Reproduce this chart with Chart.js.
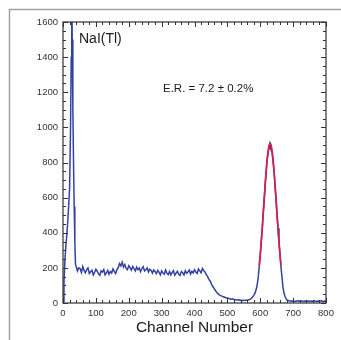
<!DOCTYPE html>
<html>
<head>
<meta charset="utf-8">
<script src="https://cdn.jsdelivr.net/npm/chart.js@4"></script>
<style>
html,body{margin:0;padding:0;background:#fff;}
#wrap{position:relative;width:341px;height:340px;}
</style>
</head>
<body>
<div id="wrap"><canvas id="c" width="341" height="340"></canvas></div>
<script>
// ---- data ----
const spectrumChannels = [
  0,3,6,9,12,15,18,20,23,25,26.5,28,30,32,34,36,38,
  40,44,48,52,56,60,64,68,72,76,80,84,88,92,96,100,104,108,112,116,120,124,128,132,136,140,144,148,152,156,
  160,164,168,172,176,180,184,188,192,196,200,204,208,212,216,220,224,228,232,236,240,244,248,252,256,
  260,264,268,272,276,280,284,288,292,296,300,304,308,312,316,320,324,328,332,336,340,344,348,352,356,
  360,364,368,372,376,380,384,388,392,396,400,404,408,412,416,420,424,428,432,436,440,444,448,452,456,
  460,464,468,472,476,480,485,490,495,500,505,510,515,520,525,530,535,540,545,550,555,560,565,570,575,
  580,585,590,594,597,600,603,606,609,612,615,618,621,624,627,629,630,631,633,636,639,642,645,648,651,
  654,657,660,663,666,669,672,675,678,681,685,690,695,700,705,710,715,720,725,730,735,740,745,750,755,
  760,765,770,775,780,785,790,795,800
];
const spectrumCounts = [
  10,120,250,330,400,480,580,650,1000,1400,1850,1500,1100,800,550,350,220,
  208,182,200,196,174,208,186,172,190,200,168,178,186,160,174,192,181,166,158,183,176,190,160,171,186,164,179,171,194,180,
  168,189,201,224,211,232,205,219,197,190,212,201,187,208,196,183,204,190,199,178,196,207,183,189,200,
  177,192,185,170,188,180,167,185,175,160,182,171,164,188,170,162,179,160,174,184,158,170,181,163,157,
  179,172,160,184,169,176,188,165,180,171,189,176,168,194,183,172,196,185,176,161,150,134,124,106,94,
  82,70,60,52,46,42,38,34,30,28,26,22,24,20,19,17,18,15,16,14,15,16,18,22,30,
  42,60,95,150,210,268,350,415,510,580,675,740,815,850,895,920,880,910,870,858,800,750,665,590,500,
  425,340,280,205,150,92,58,38,26,18,14,12,10,12,9,11,13,10,12,9,11,10,13,9,11,
  10,12,9,11,10,12,9,11,10
];
const fitChannels = [597,600,603,606,609,612,615,618,621,624,627,630,633,636,639,642,645,648,651,654,657,660,663];
const fitCounts   = [216,278,348,426,509,594,676,753,818,867,898,908,898,867,818,753,676,594,509,426,348,278,216];
const xTickLabels = [0,100,200,300,400,500,600,700,800];
const yTickLabels = [0,200,400,600,800,1000,1200,1400,1600];
const detectorLabel = "NaI(Tl)";
const resolutionLabel = "E.R. = 7.2 \u00b1 0.2%";
const xTitle = "Channel Number";

const spectrumData = spectrumChannels.map((c,i)=>({x:c,y:spectrumCounts[i]}));
const fitData = fitChannels.map((c,i)=>({x:c,y:fitCounts[i]}));

const frameAndTicks = {
  id:'frameAndTicks',
  beforeDraw(chart){
    const ctx = chart.ctx;
    ctx.save();
    ctx.strokeStyle = '#a0a0a0';
    ctx.lineWidth = 1.5;
    ctx.beginPath();
    ctx.moveTo(9.5, 340); ctx.lineTo(9.5, 9.5); ctx.lineTo(341, 9.5);
    ctx.stroke();
    ctx.restore();
  },
  afterDraw(chart){
    const {ctx, chartArea:a, scales:{x, y}} = chart;
    ctx.save();
    ctx.strokeStyle = '#333';
    ctx.lineWidth = 1;
    ctx.beginPath();
    for (let v = 0; v <= 800; v += 20) {
      const px = Math.round(x.getPixelForValue(v)) + 0.5;
      const len = (v % 100 === 0) ? 5 : 3;
      ctx.moveTo(px, a.bottom); ctx.lineTo(px, a.bottom - len);
      ctx.moveTo(px, a.top); ctx.lineTo(px, a.top + len);
    }
    for (let v = 0; v <= 1600; v += 50) {
      const py = Math.round(y.getPixelForValue(v)) + 0.5;
      const len = (v % 200 === 0) ? 5 : 3;
      ctx.moveTo(a.left, py); ctx.lineTo(a.left + len, py);
      ctx.moveTo(a.right, py); ctx.lineTo(a.right - len, py);
    }
    ctx.stroke();
    ctx.lineWidth = 1.2;
    ctx.strokeRect(a.left, a.top, a.right - a.left, a.bottom - a.top);
    ctx.fillStyle = '#1a1a1a';
    ctx.textBaseline = 'middle';
    ctx.textAlign = 'left';
    ctx.font = '14px "Liberation Sans", Arial, sans-serif';
    ctx.fillText(detectorLabel, a.left + 16, a.top + 17);
    ctx.font = '11.5px "Liberation Sans", Arial, sans-serif';
    ctx.fillText(resolutionLabel, a.left + 100, a.top + 67);
    ctx.restore();
  }
};

new Chart(document.getElementById('c'), {
  type: 'line',
  data: {
    datasets: [
      {data: spectrumData, order:1, borderColor:'#3142a3', borderWidth:1.5, pointRadius:0, tension:0, fill:false},
      {data: fitData, order:0, borderColor:'#d8204a', borderWidth:1.7, pointRadius:0, tension:0.3, fill:false}
    ]
  },
  plugins:[frameAndTicks],
  options: {
    responsive:false,
    animation:false,
    events:[],
    layout:{padding:{left:0,right:15,top:22,bottom:0}},
    plugins:{legend:{display:false}, tooltip:{enabled:false}},
    scales:{
      x:{
        type:'linear', min:0, max:800,
        grid:{display:false, drawTicks:false}, border:{display:false},
        afterBuildTicks(s){ s.ticks = xTickLabels.map(v=>({value:v})); },
        ticks:{color:'#333', padding:5, maxRotation:0, autoSkip:false,
               callback:(v)=>String(v),
               font:{size:9.5, family:'"Liberation Sans", Arial, sans-serif'}},
        title:{display:true, text:xTitle, color:'#1a1a1a', padding:{top:0,bottom:3},
               font:{size:15.5, family:'"Liberation Sans", Arial, sans-serif'}},
        afterFit(s){ s.height = 37; }
      },
      y:{
        type:'linear', min:0, max:1600,
        grid:{display:false, drawTicks:false}, border:{display:false},
        afterBuildTicks(s){ s.ticks = yTickLabels.map(v=>({value:v})); },
        ticks:{color:'#333', padding:5, autoSkip:false,
               callback:(v)=>String(v),
               font:{size:9.5, family:'"Liberation Sans", Arial, sans-serif'}},
        afterFit(s){ s.width = 63; }
      }
    }
  }
});
</script>
</body>
</html>
